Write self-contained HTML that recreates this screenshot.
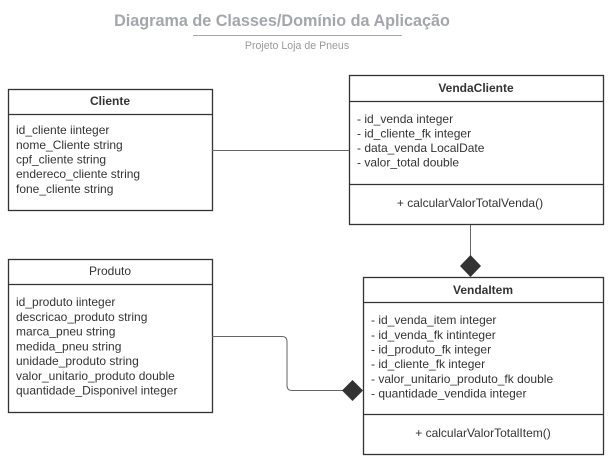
<!DOCTYPE html>
<html><head><meta charset="utf-8"><style>
html,body{margin:0;padding:0;background:#fff;width:614px;height:468px;overflow:hidden}
svg text{font-family:"Liberation Sans",Arial,sans-serif;fill:#333}
</style></head><body>
<svg width="614" height="468" viewBox="0 0 614 468" xmlns="http://www.w3.org/2000/svg">
<text x="282" y="26" text-anchor="middle" font-size="16.2" font-weight="bold" style="fill:#a3a6aa">Diagrama de Classes/Domínio da Aplicação</text>
<line x1="193" y1="35.5" x2="402" y2="35.5" stroke="#a3a6aa" stroke-width="1"/>
<text x="297" y="49" text-anchor="middle" font-size="10.6" style="fill:#999">Projeto  Loja de Pneus</text>

<g fill="none" stroke="#333" stroke-width="1.3">
<rect x="8.5" y="89.5" width="204" height="121"/>
<line x1="8.5" y1="114.5" x2="212.5" y2="114.5"/>
<rect x="349.5" y="75.5" width="254" height="149"/>
<line x1="349.5" y1="101.5" x2="603.5" y2="101.5"/>
<line x1="349.5" y1="184.5" x2="603.5" y2="184.5"/>
<rect x="8.5" y="259.5" width="204" height="153"/>
<line x1="8.5" y1="284.5" x2="212.5" y2="284.5"/>
<rect x="363.5" y="277.5" width="240" height="177"/>
<line x1="363.5" y1="302.5" x2="603.5" y2="302.5"/>
<line x1="363.5" y1="414.5" x2="603.5" y2="414.5"/>
</g>
<g fill="none" stroke="#666" stroke-width="1">
<line x1="212" y1="150.5" x2="349" y2="150.5"/>
<line x1="470.5" y1="225" x2="470.5" y2="256"/>
<path d="M212 336.5 H282 Q287 336.5 287 341.5 V385.5 Q287 390.5 292 390.5 H343"/>
</g>
<polygon points="470.5,255 481,266 470.5,277 460,266" fill="#333"/>
<polygon points="342,390.5 352.5,380 363,390.5 352.5,401" fill="#333"/>

<g font-size="12">
<text x="110" y="105" text-anchor="middle" font-weight="bold">Cliente</text>
<text x="16" y="134">id_cliente iinteger</text>
<text x="16" y="149">nome_Cliente string</text>
<text x="16" y="163.5">cpf_cliente string</text>
<text x="16" y="178">endereco_cliente string</text>
<text x="16" y="193">fone_cliente string</text>

<text x="476" y="92" text-anchor="middle" font-weight="bold">VendaCliente</text>
<text x="357" y="123">- id_venda integer</text>
<text x="357" y="137.5">- id_cliente_fk integer</text>
<text x="357" y="152">- data_venda LocalDate</text>
<text x="357" y="166.5">- valor_total double</text>
<text x="470" y="207" text-anchor="middle">+ calcularValorTotalVenda()</text>

<text x="110" y="275" text-anchor="middle">Produto</text>
<text x="16" y="306">id_produto iinteger</text>
<text x="16" y="321">descricao_produto string</text>
<text x="16" y="335.5">marca_pneu string</text>
<text x="16" y="350.5">medida_pneu string</text>
<text x="16" y="365">unidade_produto string</text>
<text x="16" y="380">valor_unitario_produto  double</text>
<text x="16" y="394.5">quantidade_Disponivel integer</text>

<text x="483" y="294" text-anchor="middle" font-weight="bold">VendaItem</text>
<text x="371" y="324">- id_venda_item integer</text>
<text x="371" y="339">- id_venda_fk intinteger</text>
<text x="371" y="353.5">- id_produto_fk integer</text>
<text x="371" y="368">- id_cliente_fk integer</text>
<text x="371" y="383">- valor_unitario_produto_fk double</text>
<text x="371" y="397.5">- quantidade_vendida integer</text>
<text x="483" y="437" text-anchor="middle">+ calcularValorTotalItem()</text>
</g>
</svg>
</body></html>
